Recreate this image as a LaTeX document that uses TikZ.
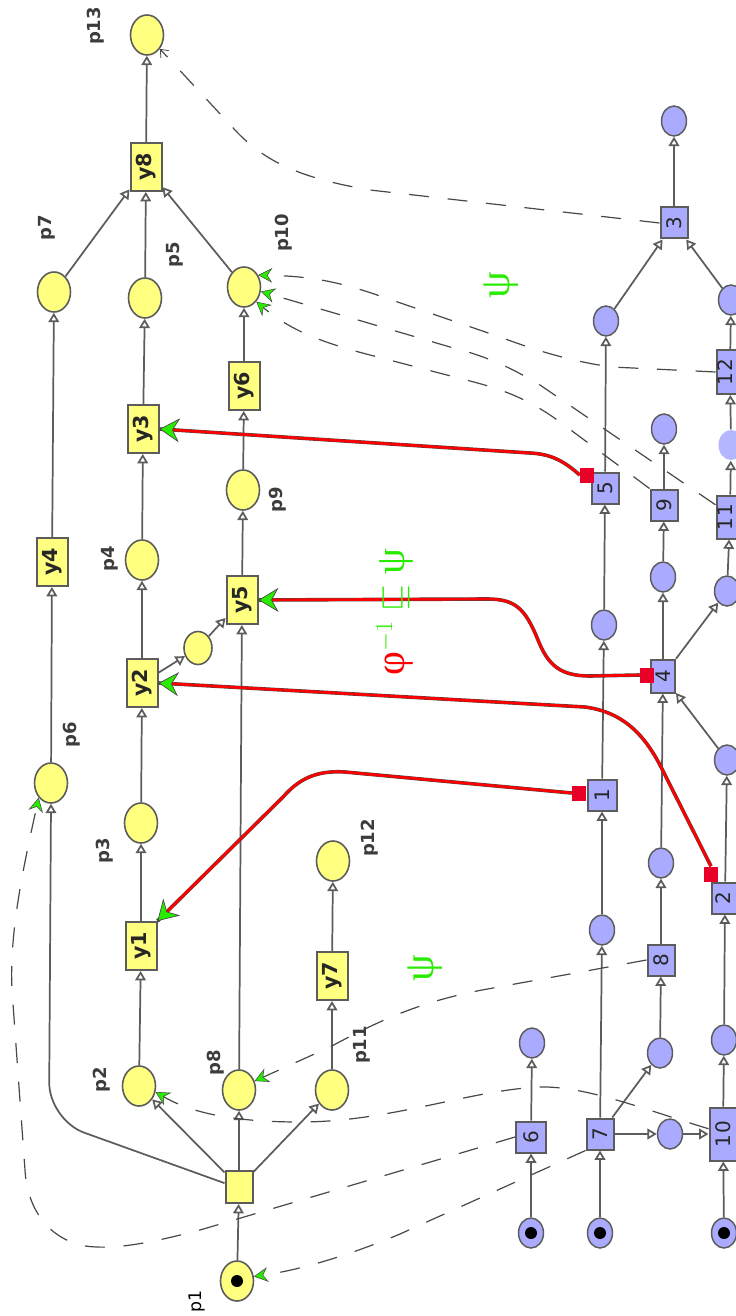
\RequirePackage{fix-cm}
\documentclass[tikz,border=0pt]{standalone}
\usepackage{fontspec}
\usepackage{graphicx}
\setmainfont{DejaVu Sans}
\newfontfamily\serifgr{Liberation Serif}
\usetikzlibrary{arrows.meta,shapes.geometric}
\definecolor{yfill}{RGB}{255,255,128}
\definecolor{bfill}{RGB}{170,170,255}
\definecolor{bfilllight}{RGB}{180,182,255}
\definecolor{lgray}{RGB}{92,92,92}
\definecolor{dgray}{RGB}{72,72,72}
\definecolor{txtgray}{RGB}{60,60,60}
\definecolor{redl}{RGB}{255,0,0}
\definecolor{redsq}{RGB}{232,0,40}
\definecolor{tgreen}{RGB}{40,235,0}
\begin{document}
\begin{tikzpicture}[x=0.75pt,y=-0.75pt,
  yp/.style={ellipse,draw=lgray,line width=1.2pt,fill=yfill,minimum width=24.75pt,minimum height=30pt,inner sep=0pt},
  yt/.style={rectangle,draw=lgray,line width=1.5pt,fill=yfill,minimum width=23.25pt,minimum height=36pt,inner sep=0pt,font=\fontsize{15.5pt}{16pt}\selectfont\bfseries,text=black!85},
  bp/.style={ellipse,draw=lgray,line width=1.1pt,fill=bfill,minimum width=18.75pt,minimum height=22.5pt,inner sep=0pt},
  bt/.style={rectangle,draw=lgray,line width=1.5pt,fill=bfill,minimum width=20.25pt,minimum height=23.25pt,inner sep=0pt,font=\fontsize{15pt}{16pt}\selectfont,text=black!85},
  rsq/.style={rectangle,fill=redsq,minimum width=10.5pt,minimum height=11.25pt,inner sep=0pt},
  plab/.style={rotate=90,font=\fontsize{13.5pt}{14pt}\selectfont\bfseries,text=txtgray,inner sep=0pt},
  arc/.style={draw=lgray,line width=1.3pt,-{Triangle[length=7pt,width=8pt,fill=white]}},
  dlink/.style={draw=dgray,line width=0.9pt,dash pattern=on 15pt off 14pt},
  gtip/.style={-{Stealth[length=10.5pt,width=11pt,inset=3.5pt,fill=tgreen,color=dgray,line width=0.4pt]}},
  redlink/.style={draw=redl,line width=2pt,preaction={draw=dgray,line width=2.7pt,arrows=-}},
  rtip/.style={-{Stealth[length=15pt,width=18pt,inset=5pt,fill=tgreen,color=dgray,line width=0.5pt]}},
  glab/.style={text=tgreen,font=\fontsize{32pt}{32pt}\selectfont\serifgr,rotate=90,inner sep=0pt}
]
\useasboundingbox (0,0) rectangle (735,1316);

% ---------- yellow net ----------
\node[yp] (p13) at (147,35) {};
\node[yt] (y8) at (146,167) {\rotatebox{90}{y8}};
\node[yp] (p7) at (54,292) {};
\node[yp] (p5) at (145,298) {};
\node[yp] (p10) at (244,287) {};
\node[yt] (y6) at (244,386) {\rotatebox{90}{y6}};
\node[yt] (y3) at (143,429) {\rotatebox{90}{y3}};
\node[yp] (p9) at (243,490) {};
\node[yt] (y4) at (52,562) {\rotatebox{90}{y4}};
\node[yp] (p4) at (142,560) {};
\node[yt] (y5) at (242,600) {\rotatebox{90}{y5}};
\node[yp,minimum width=21pt,minimum height=24.75pt] (ps) at (198,648) {};
\node[yt] (y2) at (142,683) {\rotatebox{90}{y2}};
\node[yp] (p6) at (51,783) {};
\node[yp] (p3) at (141,823) {};
\node[yp] (p12) at (333,861) {};
\node[yt] (y1) at (141,946) {\rotatebox{90}{y1}};
\node[yt] (y7) at (332,976) {\rotatebox{90}{y7}};
\node[yp] (p2) at (139,1086) {};
\node[yp] (p8) at (239,1090) {};
\node[yp] (p11) at (332,1090) {};
\node[yt,minimum width=20.25pt,minimum height=24pt] (t0) at (239,1187) {};
\node[yp] (p1) at (237,1281) {};
\fill[black] (p1.center) circle[radius=4.5pt];

% labels
\node[plab] (lp13) at (96,26) {p13};
\node[plab] (lp7) at (47,228) {p7};
\node[plab] (lp5) at (175,255) {p5};
\node[plab] (lp10) at (284,233) {p10};
\node[plab] (lp9) at (278,500) {p9};
\node[plab] (lp4) at (110,559) {p4};
\node[plab] (lp6) at (72,735) {p6};
\node[plab] (lp3) at (105,851) {p3};
\node[plab] (lp12) at (370,838) {p12};
\node[plab] (lp2) at (102,1080) {p2};
\node[plab] (lp8) at (216,1063) {p8};
\node[plab] (lp11) at (362,1045) {p11};
\node[rotate=90,font=\fontsize{13pt}{14pt}\selectfont,text=black,inner sep=0pt] (lp1) at (197,1301) {p1};

% ---------- blue net ----------
\node[bp] (btop) at (674,121) {};
\node[bt] (t3) at (674,223) {\rotatebox{90}{3}};
\node[bp] (bl3) at (606,321) {};
\node[bp] (br3) at (731,300) {};
\node[bt,minimum height=33pt] (t12) at (730,372) {\rotatebox{90}{\raisebox{-1.9pt}[0pt][0pt]{1\kern1.5pt2}}};
\node[bp,draw=none,fill=bfilllight] (bli) at (731,445) {};
\node[bt,minimum height=32.25pt] (t11) at (730,517) {\rotatebox{90}{\raisebox{-1.9pt}[0pt][0pt]{1\kern1.5pt1}}};
\node[bp] (br4) at (727,591) {};
\node[bt] (t5) at (605,488) {\rotatebox{90}{5}};
\node[bp] (b5) at (604,625) {};
\node[bt] (t9) at (664,505) {\rotatebox{90}{9}};
\node[bp] (b9t) at (664,429) {};
\node[bp] (b9b) at (663,577) {};
\node[bt,minimum width=18pt,minimum height=24.75pt] (t4) at (663,676) {\rotatebox{90}{4}};
\node[bp] (b2) at (727,760) {};
\node[bt,minimum width=21.75pt] (t1) at (602,795) {\rotatebox{90}{1}};
\node[bp] (b48) at (661,863) {};
\node[bt] (t2) at (725,898) {\rotatebox{90}{\raisebox{-4pt}[0pt][0pt]{2}}};
\node[bp] (b1) at (602,930) {};
\node[bt] (t8) at (661,960) {\rotatebox{90}{8}};
\node[bp] (b10) at (724,1040) {};
\node[bp] (b8) at (660,1053) {};
\node[bp] (b6) at (532,1043) {};
\node[bt,minimum width=22.5pt] (t6) at (531,1137) {\rotatebox{90}{6}};
\node[bt] (t7) at (600,1134) {\rotatebox{90}{7}};
\node[bp] (b7r) at (670,1134) {};
\node[bt,minimum height=39.75pt] (t10) at (723,1134) {\rotatebox{90}{1\kern1.5pt0}};
\node[bp] (k6) at (531,1233) {};
\node[bp] (k7) at (600,1233) {};
\node[bp] (k10) at (724,1233) {};
\fill[black] (k6.center) circle[radius=4.5pt];
\fill[black] (k7.center) circle[radius=4.5pt];
\fill[black] (k10.center) circle[radius=4.5pt];

% red squares
\node[rsq] (rs5) at (587,475) {};
\node[rsq] (rs4) at (647,675) {};
\node[rsq] (rs1) at (579,793) {};
\node[rsq] (rs2) at (711,874) {};

% ---------- arcs ----------
\begin{scope}[every path/.style={arc}]
\draw (p1) -- (t0);
\draw (t0) -- (p2);
\draw (t0) -- (p8);
\draw (t0) -- (p11);
\draw[rounded corners=28pt] (t0.165) -- (49,1120) -- (p6.south);
\draw (p2) -- (y1);
\draw (y1) -- (p3);
\draw (p3) -- (y2);
\draw (y2) -- (p4);
\draw (p4) -- (y3);
\draw (y3) -- (p5);
\draw (p5) -- (y8);
\draw (y2) -- (ps);
\draw (ps) -- (y5);
\draw (p8) -- (y5);
\draw (y5) -- (p9);
\draw (p9) -- (y6);
\draw (y6) -- (p10);
\draw (p10) -- (y8);
\draw (p6) -- (y4);
\draw (y4) -- (p7);
\draw (p7) -- (y8);
\draw (y8) -- (p13);
\draw (p11) -- (y7);
\draw (y7) -- (p12);
% blue
\draw (k6) -- (t6);
\draw (t6) -- (b6);
\draw (k7) -- (t7);
\draw (t7) -- (b7r);
\draw (t7) -- (b8);
\draw (t7) -- (b1);
\draw (b7r) -- (t10);
\draw (k10) -- (t10);
\draw (t10) -- (b10);
\draw (b10) -- (t2);
\draw (t2) -- (b2);
\draw (b2) -- (t4);
\draw (b8) -- (t8);
\draw (t8) -- (b48);
\draw (b48) -- (t4);
\draw (t4) -- (b9b);
\draw (t4) -- (br4);
\draw (b9b) -- (t9);
\draw (t9) -- (b9t);
\draw (b1) -- (t1);
\draw (t1) -- (b5);
\draw (b5) -- (t5);
\draw (t5) -- (bl3);
\draw (bl3) -- (t3);
\draw (br3) -- (t3);
\draw (br4) -- (t11);
\draw (t11) -- (bli);
\draw (bli) -- (t12);
\draw (t12) -- (br3);
\draw (t3) -- (btop);
\end{scope}

% ---------- dashed links ----------
\draw[dlink,-{Straight Barb[length=5pt,width=8pt,line width=0.6pt]}] (t3.west) -- (370,190) .. controls (300,178) and (265,162) .. (235,130) -- (p13);
\draw[dlink,gtip] (t12.west) -- (612,367) .. controls (575,362) and (540,352) .. (500,337) -- (380,296) .. controls (340,282) and (310,276) .. (p10.40);
\draw[dlink,gtip] (t11.140) -- (540,385) .. controls (515,370) and (490,357) .. (450,347) -- (p10.-15);
\draw[dlink,gtip] (t9.north west) -- (560,422) .. controls (530,400) and (505,390) .. (470,381) -- (370,355) .. controls (320,342) and (290,330) .. (p10.-50);
\draw[dlink,gtip] (t8.west) -- (482,990) .. controls (420,1002) and (380,1020) .. (330,1047) -- (p8.30);
\draw[dlink,gtip] (t10.160) .. controls (640,1108) and (585,1086) .. (540,1087) .. controls (470,1090) and (390,1122) .. (300,1122) .. controls (230,1122) and (190,1112) .. (p2.-20);
\draw[dlink,gtip] (t6.west) -- (200,1230) .. controls (150,1243) and (115,1250) .. (85,1246) .. controls (45,1238) and (27,1205) .. (25,1170) -- (12,990) .. controls (9,930) and (25,860) .. (p6.-130);
\draw[dlink,gtip] (t7.south west) -- (400,1234) .. controls (350,1255) and (300,1270) .. (p1.15);

% ---------- red links ----------
\draw[redlink,rtip] (rs5.west) .. controls (565,462) and (552,454) .. (530,453) -- (y3.east);
\draw[redlink,rtip] (rs4.west) -- (590,676) .. controls (560,676) and (548,665) .. (538,640) .. controls (525,608) and (515,599) .. (487,599) -- (y5.east);
\draw[redlink,rtip] (rs1.west) -- (345,772) .. controls (315,770) and (298,780) .. (283,797) -- (y1.north east);
\draw[redlink,rtip] (rs2.north) -- (660,765) .. controls (643,733) and (622,712) .. (585,707) -- (y2.east);

% ---------- green labels ----------
\node[glab] (psiA) at (501,285) {ψ};
\node[glab] (psiB) at (425,968) {ψ};
\node[rotate=90,inner sep=0pt,font=\fontsize{26pt}{26pt}\selectfont] (rel) at (395,612) {$\mbox{\fontsize{31pt}{31pt}\selectfont\serifgr\color{red}φ}^{\color{tgreen}-1}\mathrel{\color{tgreen}\sqsubseteq}\mbox{\fontsize{31pt}{31pt}\selectfont\serifgr\color{tgreen}ψ}$};
\end{tikzpicture}
\end{document}
